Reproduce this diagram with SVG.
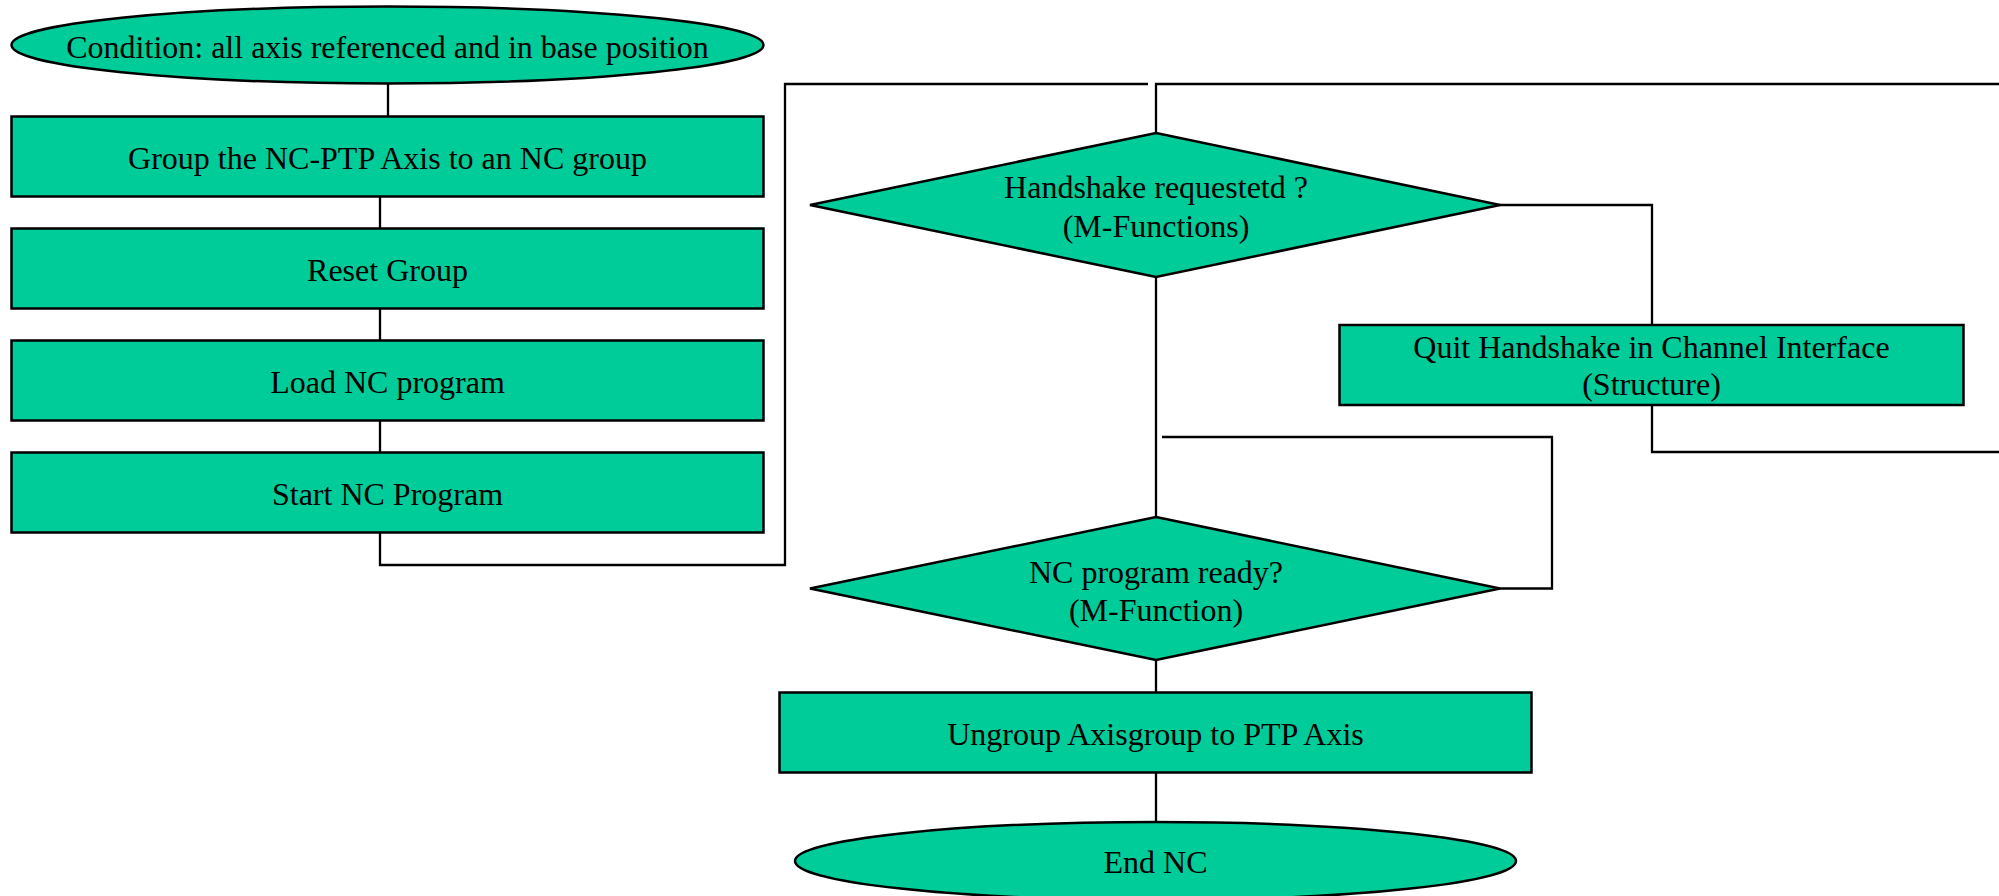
<svg xmlns="http://www.w3.org/2000/svg" width="1999" height="896" viewBox="0 0 1999 896">
<style>
.n{fill:#00CC99;stroke:#000;stroke-width:2.5}
.c{fill:none;stroke:#000;stroke-width:2.3}
text{font-family:"Liberation Serif","Times New Roman",serif;font-size:32px;fill:#000;text-anchor:middle}
</style>
<rect width="1999" height="896" fill="#fff"/>
<g id="connectors">
<path class="c" d="M388,83 V117"/>
<path class="c" d="M380,196 V229"/>
<path class="c" d="M380,308 V341"/>
<path class="c" d="M380,420 V453"/>
<path class="c" d="M380,532 V565 H785 V84 H1148"/>
<path class="c" d="M1156,133 V84 H1999"/>
<path class="c" d="M1499,205 H1652 V325"/>
<path class="c" d="M1652,405 V452 H1999"/>
<path class="c" d="M1156,276 V517"/>
<path class="c" d="M1499,588.5 H1552 V437 H1162"/>
<path class="c" d="M1156,660 V692"/>
<path class="c" d="M1156,772 V822"/>
</g>
<g id="start">
<ellipse class="n" cx="387.5" cy="45" rx="376" ry="38.5"/>
<text x="387.5" y="58">Condition: all axis referenced and in base position</text>
</g>
<g id="group">
<rect class="n" x="11.5" y="116.5" width="752" height="80"/>
<text x="387.5" y="168.5">Group the NC-PTP Axis to an NC group</text>
</g>
<g id="reset">
<rect class="n" x="11.5" y="228.5" width="752" height="80"/>
<text x="387.5" y="280.5">Reset Group</text>
</g>
<g id="load">
<rect class="n" x="11.5" y="340.5" width="752" height="80"/>
<text x="387.5" y="392.5">Load NC program</text>
</g>
<g id="startprog">
<rect class="n" x="11.5" y="452.5" width="752" height="80"/>
<text x="387.5" y="504.5">Start NC Program</text>
</g>
<g id="handshake">
<polygon class="n" points="1156,133 1500,205 1156,277 810,205"/>
<text x="1156" y="198">Handshake requestetd ?</text>
<text x="1156" y="237">(M-Functions)</text>
</g>
<g id="quit">
<rect class="n" x="1339.5" y="325" width="624" height="80"/>
<text x="1651.5" y="358">Quit Handshake in Channel Interface</text>
<text x="1651.5" y="395">(Structure)</text>
</g>
<g id="ready">
<polygon class="n" points="1156,517 1500,588.5 1156,660 810,588.5"/>
<text x="1156" y="583">NC program ready?</text>
<text x="1156" y="621">(M-Function)</text>
</g>
<g id="ungroup">
<rect class="n" x="779.5" y="692.5" width="752" height="80"/>
<text x="1155.5" y="744.5">Ungroup Axisgroup to PTP Axis</text>
</g>
<g id="end">
<ellipse class="n" cx="1155.5" cy="861" rx="360.5" ry="39"/>
<text x="1155.5" y="873">End NC</text>
</g>
</svg>
